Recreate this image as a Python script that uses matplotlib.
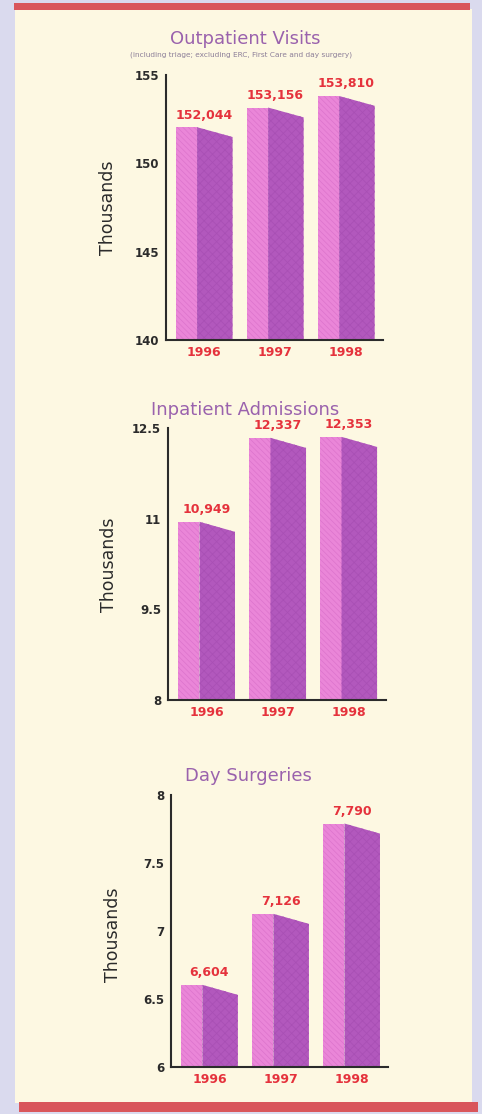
import matplotlib
matplotlib.use("Agg")
import matplotlib.pyplot as plt
from matplotlib.patches import Polygon, Rectangle

years = ["1996", "1997", "1998"]

outpatient = [152044, 153156, 153810]
inpatient = [10949, 12337, 12353]
day_surgery = [6604, 7126, 7790]

out_ticks = [140, 145, 150, 155]
out_ticklabels = ["140", "145", "150", "155"]
in_ticks = [8, 9.5, 11, 12.5]
in_ticklabels = ["8", "9.5", "11", "12.5"]
day_ticks = [6, 6.5, 7, 7.5, 8]
day_ticklabels = ["6", "6.5", "7", "7.5", "8"]

titles = ["Outpatient Visits", "Inpatient Admissions", "Day Surgeries"]
subtitle = "(including triage; excluding ERC, First Care and day surgery)"

lavender = "#dadaee"
cream = "#fdf8e2"
red_bar = "#d9565b"
label_red = "#e5323c"
pink = "#ea86d8"
pink_hatch = "#dc74cc"
purple = "#b258bd"
purple_hatch = "#a84fb4"
title_col = "#9a62ad"
dark = "#2b2b2b"

plt.rcParams["hatch.linewidth"] = 0.5

fig = plt.figure(figsize=(4.82, 11.14), dpi=100, facecolor=lavender)

# cream page and red rules (behind the axes)
fig.patches.append(Rectangle((0.031, 0.010), 0.948, 0.982, transform=fig.transFigure,
                             facecolor=cream, edgecolor="none", zorder=-3))
fig.patches.append(Rectangle((0.029, 0.991), 0.946, 0.006, transform=fig.transFigure,
                             facecolor=red_bar, edgecolor="none", zorder=-2))
fig.patches.append(Rectangle((0.040, 0.002), 0.952, 0.009, transform=fig.transFigure,
                             facecolor=red_bar, edgecolor="none", zorder=-2))

panels = [
    (outpatient, out_ticks, out_ticklabels, [0.344, 0.6948, 0.451, 0.2379], -0.226, 0.50),
    (inpatient, in_ticks, in_ticklabels, [0.349, 0.3716, 0.451, 0.2442], -0.230, 0.496),
    (day_surgery, day_ticks, day_ticklabels, [0.355, 0.0422, 0.451, 0.2442], -0.226, 0.485),
]

front_w = 0.30
side_w = 0.50
offset = 0.14

for vals, ticks, ticklabels, rect, ylab_x, ylab_y in panels:
    ax = fig.add_axes(rect)
    ax.patch.set_alpha(0)
    ymin, ymax = ticks[0], ticks[-1]
    ax.set_xlim(0, 3.06)
    ax.set_ylim(ymin, ymax)
    drop = 0.037 * (ymax - ymin)
    for i, v in enumerate(vals):
        h = v / 1000
        x0 = offset + i
        ax.bar(x0, h - ymin, bottom=ymin, width=front_w, align="edge",
               facecolor=pink, edgecolor=pink_hatch, hatch="\\\\\\\\\\\\", linewidth=0, zorder=2)
        side = Polygon([(x0 + front_w, ymin), (x0 + front_w, h),
                        (x0 + front_w + side_w, h - drop), (x0 + front_w + side_w, ymin)],
                       closed=True, facecolor=purple, edgecolor=purple_hatch,
                       hatch="xxxx", linewidth=0, zorder=2)
        ax.add_patch(side)
        ax.annotate(f"{v:,}", (x0 + (front_w + side_w) / 2, h), xytext=(0, 4),
                    textcoords="offset points", ha="center", va="bottom",
                    color=label_red, fontsize=9, fontweight="bold", zorder=3)
    ax.set_xticks([offset + i + (front_w + side_w) / 2 for i in range(len(years))])
    ax.set_xticklabels(years, color=label_red, fontsize=9, fontweight="bold")
    ax.set_yticks(ticks)
    ax.set_yticklabels(ticklabels, color=dark, fontsize=8.5, fontweight="bold")
    ax.tick_params(length=0, pad=5)
    ax.tick_params(axis="x", pad=4)
    for s in ["top", "right"]:
        ax.spines[s].set_visible(False)
    for s in ["left", "bottom"]:
        ax.spines[s].set_linewidth(1.5)
        ax.spines[s].set_color(dark)
        ax.spines[s].set_zorder(4)
    ax.set_ylabel("Thousands", fontsize=12.5, color=dark)
    ax.yaxis.set_label_coords(ylab_x, ylab_y)

fig.text(0.508, 0.965, titles[0], ha="center", va="center", fontsize=13, color=title_col)
fig.text(0.500, 0.9506, subtitle, ha="center", va="center", fontsize=5.3, color="#8c7e98")
fig.text(0.509, 0.632, titles[1], ha="center", va="center", fontsize=13, color=title_col)
fig.text(0.515, 0.3034, titles[2], ha="center", va="center", fontsize=13, color=title_col)

fig.savefig("out.png", dpi=100, facecolor=fig.get_facecolor())
